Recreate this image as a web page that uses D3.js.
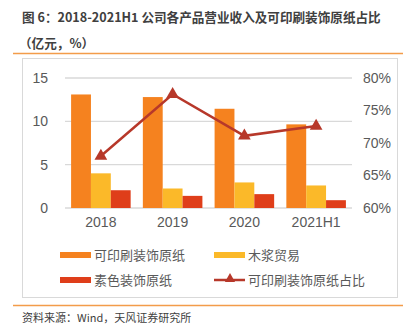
<!DOCTYPE html>
<html>
<head>
<meta charset="utf-8">
<script src="https://cdn.jsdelivr.net/npm/d3@7"></script>
<style>
  body { margin: 0; background: #fff; }
  svg { display: block; font-family: "Liberation Sans", "Noto Sans CJK SC", sans-serif; }
</style>
</head>
<body>
<div id="chart"></div>
<script>
const categories = ["2018", "2019", "2020", "2021H1"];
const printPaper = [13.1, 12.8, 11.45, 9.65];
const pulpTrade = [4.0, 2.25, 2.95, 2.6];
const plainPaper = [2.05, 1.4, 1.6, 0.9];
const printShare = [68.0, 77.5, 71.1, 72.6];
const leftTicks = [0, 5, 10, 15];
const rightTicks = [60, 65, 70, 75, 80];

const width = 403, height = 329;
const cjk = '"Noto Sans CJK SC", sans-serif';

const svg = d3.select("#chart").append("svg")
  .attr("width", width).attr("height", height);

// title
svg.append("text").attr("x", 22).attr("y", 21.5)
  .attr("font-family", cjk).attr("font-size", 12.6).attr("font-weight", "bold")
  .attr("fill", "#404040")
  .text("图 6：2018-2021H1 公司各产品营业收入及可印刷装饰原纸占比");
svg.append("text").attr("x", 19).attr("y", 47.5)
  .attr("font-family", cjk).attr("font-size", 12.6).attr("font-weight", "bold")
  .attr("fill", "#404040")
  .text("（亿元，%）");

svg.append("line").attr("x1", 13).attr("x2", 403).attr("y1", 53.5).attr("y2", 53.5)
  .attr("stroke", "#F39C4A").attr("stroke-width", 1.5);
svg.append("rect").attr("x", 22.5).attr("y", 58.5).attr("width", 375).attr("height", 239)
  .attr("fill", "none").attr("stroke", "#d9d9d9");

const x0 = d3.scaleBand().domain(categories).range([65, 352]).paddingInner(0.17).paddingOuter(0.085);
const series = ["印刷", "木浆", "素色"];
const x1 = d3.scaleBand().domain(series).range([0, x0.bandwidth()]);
const yL = d3.scaleLinear().domain([0, 15]).range([208, 78]);
const yR = d3.scaleLinear().domain([60, 80]).range([208, 78]);

// grid
svg.append("g").selectAll("line").data(leftTicks).join("line")
  .attr("x1", 65).attr("x2", 352)
  .attr("y1", d => yL(d)).attr("y2", d => yL(d))
  .attr("stroke", "#d9d9d9").attr("stroke-width", 1.3);

// axes
const axisL = svg.append("g").attr("transform", "translate(48,0)")
  .call(d3.axisLeft(yL).tickValues(leftTicks).tickSize(0).tickPadding(0));
const axisR = svg.append("g").attr("transform", "translate(363,0)")
  .call(d3.axisRight(yR).tickValues(rightTicks).tickSize(0).tickPadding(0).tickFormat(d => d + "%"));
const axisB = svg.append("g").attr("transform", "translate(0,208)")
  .call(d3.axisBottom(x0).tickSize(0).tickPadding(9));
[axisL, axisR, axisB].forEach(a => {
  a.select(".domain").remove();
  a.selectAll("text").attr("font-size", 14).attr("fill", "#595959")
    .attr("font-family", '"Liberation Sans", sans-serif');
});

const colors = { "印刷": "#F5821F", "木浆": "#FBB929", "素色": "#DF3E1A" };
const rows = categories.map((c, i) => ({ c, vals: [printPaper[i], pulpTrade[i], plainPaper[i]] }));

svg.append("g").selectAll("g").data(rows).join("g")
  .attr("transform", d => `translate(${x0(d.c)},0)`)
  .selectAll("rect").data(d => d.vals.map((v, j) => ({ k: series[j], v })))
  .join("rect")
  .attr("x", d => x1(d.k)).attr("width", x1.bandwidth())
  .attr("y", d => yL(d.v)).attr("height", d => yL(0) - yL(d.v))
  .attr("fill", d => colors[d.k]);

const lineColor = "#B7382A";
const pts = categories.map((c, i) => [x0(c) + x0.bandwidth() / 2, yR(printShare[i])]);
svg.append("path").attr("d", d3.line()(pts))
  .attr("fill", "none").attr("stroke", lineColor).attr("stroke-width", 2.5);
const tri = d3.symbol().type(d3.symbolTriangle).size(70);
svg.append("g").selectAll("path").data(pts).join("path")
  .attr("transform", d => `translate(${d[0]},${d[1]})`)
  .attr("d", tri).attr("fill", lineColor);

// legend
const legend = [
  { label: "可印刷装饰原纸", color: colors["印刷"], x: 60, y: 255, type: "bar" },
  { label: "木浆贸易", color: colors["木浆"], x: 214, y: 255, type: "bar" },
  { label: "素色装饰原纸", color: colors["素色"], x: 60, y: 280, type: "bar" },
  { label: "可印刷装饰原纸占比", color: lineColor, x: 214, y: 280, type: "line" }
];
const lg = svg.append("g").selectAll("g").data(legend).join("g")
  .attr("transform", d => `translate(${d.x},${d.y})`);
lg.filter(d => d.type === "bar").append("rect")
  .attr("x", 0).attr("y", -3).attr("width", 31).attr("height", 6).attr("fill", d => d.color);
lg.filter(d => d.type === "line").call(g => {
  g.append("line").attr("x1", 0).attr("x2", 31).attr("stroke", d => d.color).attr("stroke-width", 2.5);
  g.append("path").attr("transform", "translate(16,-1)").attr("d", d3.symbol().type(d3.symbolTriangle).size(45))
    .attr("fill", d => d.color);
});
lg.append("text").attr("x", 34).attr("dy", "0.36em")
  .attr("font-family", cjk).attr("font-size", 13).attr("fill", "#595959")
  .text(d => d.label);

svg.append("line").attr("x1", 13).attr("x2", 403).attr("y1", 305.5).attr("y2", 305.5)
  .attr("stroke", "#F39C4A").attr("stroke-width", 1.5);
svg.append("text").attr("x", 22).attr("y", 322)
  .attr("font-family", cjk).attr("font-size", 11).attr("fill", "#404040")
  .text("资料来源：Wind，天风证券研究所");
</script>
</body>
</html>
